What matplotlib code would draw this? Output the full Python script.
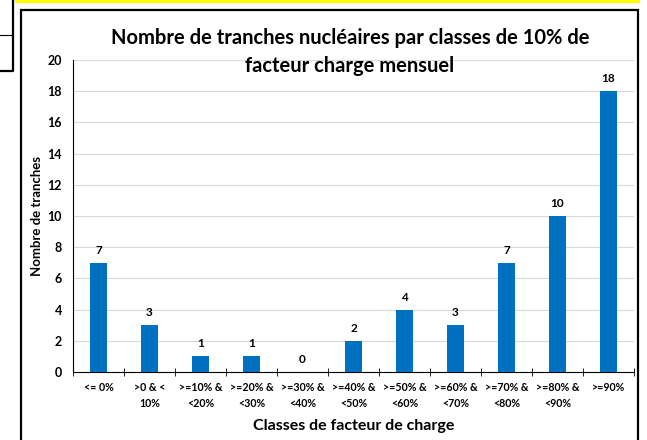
import numpy as np
import matplotlib
matplotlib.use("Agg")
import matplotlib.pyplot as plt
from matplotlib.patches import Rectangle
from matplotlib.lines import Line2D

categories = ["<= 0%", ">0 & <\n10%", ">=10% &\n<20%", ">=20% &\n<30%", ">=30% &\n<40%",
              ">=40% &\n<50%", ">=50% &\n<60%", ">=60% &\n<70%", ">=70% &\n<80%",
              ">=80% &\n<90%", ">=90%"]
tranches = [7, 3, 1, 1, 0, 2, 4, 3, 7, 10, 18]

plt.rcParams['font.family'] = ['Lato', 'DejaVu Sans']

fig = plt.figure(figsize=(6.47, 4.40), dpi=100)
W, H = 647, 440

# decorations around the chart (spreadsheet frame)
fig.patches.append(Rectangle((15 / W, 1 - 3 / H), 625 / W, 3 / H, transform=fig.transFigure,
                             facecolor="#FFFF00", edgecolor="none"))
fig.patches.append(Rectangle((21 / W, -0.01), 617 / W, 1.01 - 10 / H, transform=fig.transFigure,
                             facecolor="none", edgecolor="black", linewidth=1.6))
fig.lines.append(Line2D([-0.01, 13 / W, 13 / W, -0.01], [1.01, 1.01, 1 - 71 / H, 1 - 71 / H],
                        transform=fig.transFigure, color="black", linewidth=1.6))
fig.lines.append(Line2D([0, 13 / W], [1 - 35 / H, 1 - 35 / H], transform=fig.transFigure,
                        color="black", linewidth=0.8))

ax = fig.add_axes([73 / W, 1 - 372 / H, (634 - 73) / W, (372 - 60) / H])
ax.patch.set_alpha(0)
x = np.arange(len(categories))
bars = ax.bar(x, tranches, width=0.32, color="#0070C0", zorder=3)
for xi, v in zip(x, tranches):
    ax.text(xi, v + 0.45, str(v), ha="center", va="bottom", fontsize=8.5, fontweight="bold")

ax.set_xlim(-0.5, len(categories) - 0.5)
ax.set_ylim(0, 20)
ax.set_yticks(np.arange(0, 21, 2))
ax.yaxis.grid(True, color="#D9D9D9", linewidth=0.8, zorder=0)
ax.set_axisbelow(True)
for s in ["top", "right"]:
    ax.spines[s].set_visible(False)
ax.spines["left"].set_color("black")
ax.spines["bottom"].set_color("black")
ax.tick_params(axis="y", length=0, labelsize=9, pad=8)
for t in ax.get_yticklabels():
    t.set_fontweight("bold")

ax.set_xticks(x)
ax.set_xticklabels(categories, fontsize=7.7, fontweight="bold", linespacing=1.6)
ax.tick_params(axis="x", length=0, pad=7)
ax.set_xticks(np.arange(-0.5, len(categories), 1), minor=True)
ax.tick_params(axis="x", which="minor", length=6, direction="inout", color="black")

ax.set_ylabel("Nombre de tranches", fontsize=9.5, fontweight="bold", labelpad=3)
ax.set_xlabel("Classes de facteur de charge", fontsize=11.5, fontweight="bold", labelpad=7)

fig.text(350 / W, 1 - 52 / H, "Nombre de tranches nucléaires par classes de 10% de\nfacteur charge mensuel",
         ha="center", va="center", fontsize=14.5, fontweight="bold", linespacing=1.45)

fig.savefig("out.png", dpi=100)
